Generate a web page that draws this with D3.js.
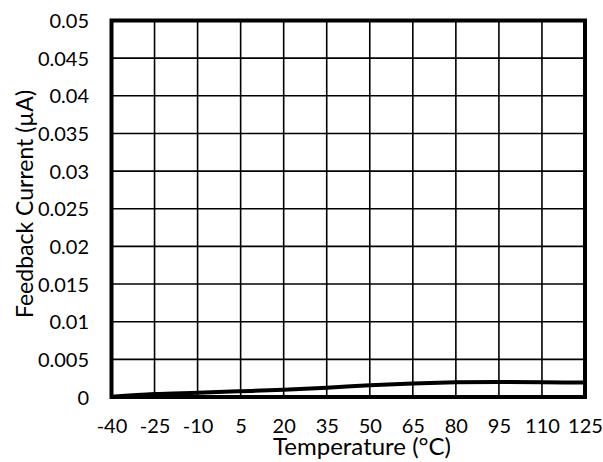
<!DOCTYPE html>
<html><head><meta charset="utf-8">
<script src="https://cdn.jsdelivr.net/npm/d3@7"></script>
<style>body{margin:0;background:#fff;} text{font-family:Lato,"DejaVu Sans",sans-serif;fill:#000;}</style>
</head><body>
<svg id="c" width="603" height="462"></svg>
<script>
const temps = [-40, -25, -10, 5, 20, 35, 50, 65, 80, 95, 110, 125];
const current = [0.00004, 0.0004, 0.00057, 0.00076, 0.00097, 0.00124, 0.00155, 0.0018, 0.00195, 0.002, 0.00196, 0.00192];
const xTicks = [-40, -25, -10, 5, 20, 35, 50, 65, 80, 95, 110, 125];
const yTicks = [0, 0.005, 0.01, 0.015, 0.02, 0.025, 0.03, 0.035, 0.04, 0.045, 0.05];
const xTitle = "Temperature (°C)";
const yTitle = "Feedback Current (µA)";

const L = 111.5, R = 585, T = 20.5, B = 397;
const svg = d3.select("#c");
const x = d3.scaleLinear().domain([-40, 125]).range([L, R]);
const y = d3.scaleLinear().domain([0, 0.05]).range([B, T]);

// grid
svg.append("g").selectAll("line").data(xTicks).join("line")
  .attr("x1", d => x(d)).attr("x2", d => x(d)).attr("y1", T).attr("y2", B)
  .attr("stroke", "#000").attr("stroke-width", 1.6);
svg.append("g").selectAll("line").data(yTicks).join("line")
  .attr("y1", d => y(d)).attr("y2", d => y(d)).attr("x1", L).attr("x2", R)
  .attr("stroke", "#000").attr("stroke-width", 1.6);

// axes labels
const xAxis = d3.axisBottom(x).tickValues(xTicks).tickSize(0).tickPadding(0).tickFormat(d => String(d));
const gx = svg.append("g").attr("transform", `translate(0,${B})`).call(xAxis);
gx.select(".domain").remove();
gx.selectAll("text").attr("font-size", 20).attr("font-family", "Lato").attr("dy", null).attr("y", 36).attr("fill", "#000");

const yAxis = d3.axisLeft(y).tickValues(yTicks).tickSize(0).tickPadding(0).tickFormat(d => d === 0 ? "0" : String(+d.toFixed(3)));
const gy = svg.append("g").attr("transform", `translate(89,0)`).call(yAxis);
gy.select(".domain").remove();
gy.selectAll("text").attr("font-size", 20).attr("font-family", "Lato").attr("dy", "0.35em").attr("x", 0).attr("fill", "#000");

// line
svg.append("path").datum(temps.map((t, i) => [t, current[i]]))
  .attr("d", d3.line().x(d => x(d[0])).y(d => y(d[1])).curve(d3.curveMonotoneX))
  .attr("fill", "none").attr("stroke", "#000").attr("stroke-width", 4);

// border
svg.append("rect").attr("x", L).attr("y", T).attr("width", R - L).attr("height", B - T)
  .attr("fill", "none").attr("stroke", "#000").attr("stroke-width", 4);

// titles
svg.append("text").attr("x", 362).attr("y", 455).attr("text-anchor", "middle").attr("font-size", 24).text(xTitle);
svg.append("text").attr("transform", "translate(33,204) rotate(-90)").attr("text-anchor", "middle").attr("font-size", 23).text(yTitle);
</script>
</body></html>
